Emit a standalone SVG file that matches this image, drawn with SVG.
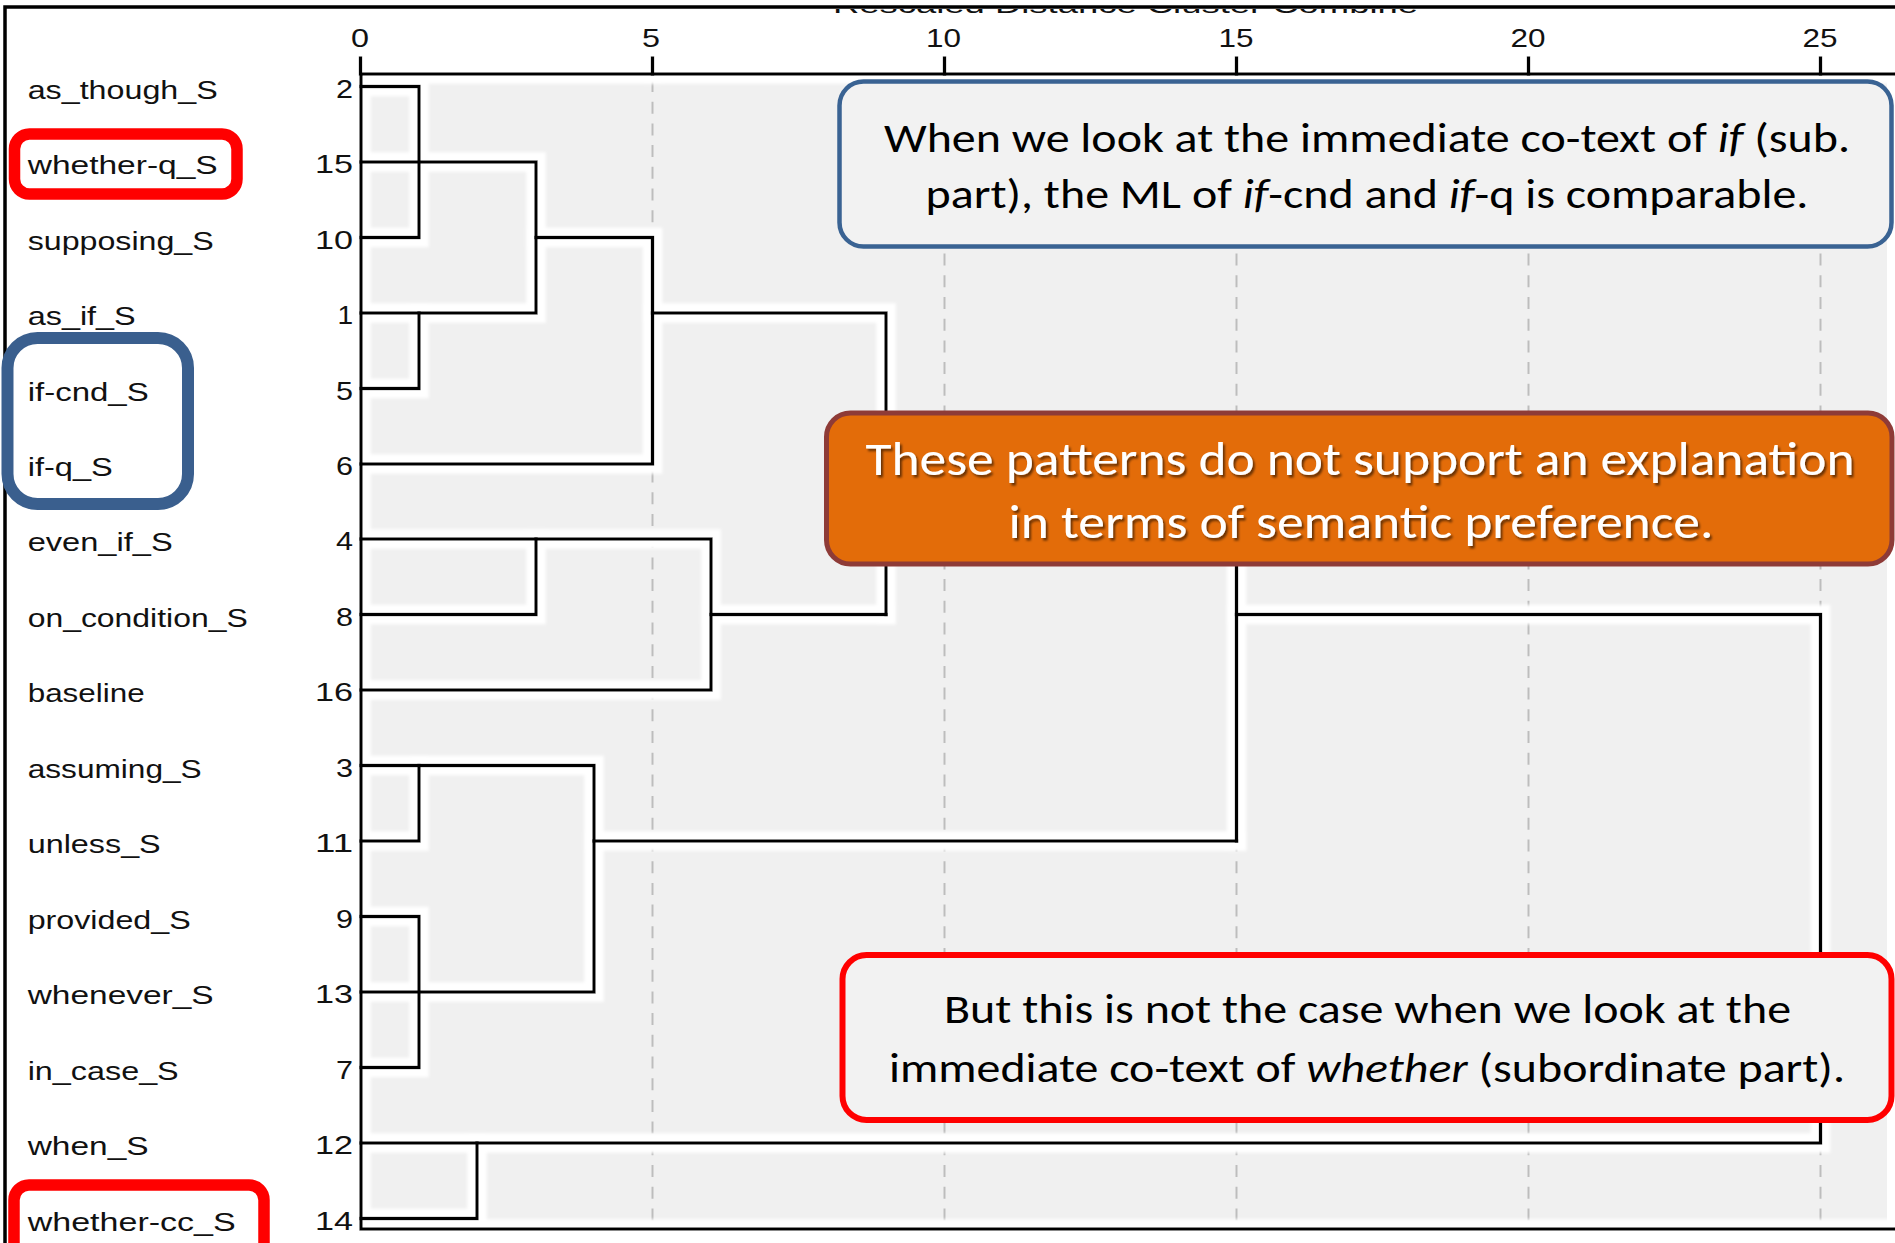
<svg xmlns="http://www.w3.org/2000/svg" width="1895" height="1243" viewBox="0 0 1895 1243">
<defs>
<style>
.lbl{font-family:"Liberation Sans",Arial,sans-serif;font-size:25px;fill:#111;}
.num{font-family:"Liberation Sans",Arial,sans-serif;font-size:25px;fill:#111;text-anchor:end;}
.ax{font-family:"Liberation Sans",Arial,sans-serif;font-size:25px;fill:#111;text-anchor:middle;}
.ln{fill:none;stroke:#000;stroke-width:3.5;stroke-linecap:square;}
.grid{stroke:#bdbdbd;stroke-width:2;stroke-dasharray:12 9.7;}
.call{font-family:Carlito,Lato,"Open Sans",sans-serif;font-size:40px;fill:#000;text-anchor:middle;}
.callw{font-family:Carlito,Lato,"Open Sans",sans-serif;font-size:48px;fill:#fff;text-anchor:middle;}
.it{font-style:italic;}
.hlr{fill:none;stroke:#ff0000;stroke-width:11.5;}
.hlb{fill:none;stroke:#3a5f8e;stroke-width:12;}
</style>
<filter id="halo" filterUnits="userSpaceOnUse" x="0" y="0" width="1895" height="1243">
<feMorphology in="SourceAlpha" operator="dilate" radius="8" result="d"/>
<feGaussianBlur in="d" stdDeviation="1.5" result="b"/>
<feFlood flood-color="#ffffff"/>
<feComposite in2="b" operator="in" result="w"/>
<feMerge><feMergeNode in="w"/><feMergeNode in="SourceGraphic"/></feMerge>
</filter>
<filter id="shadow" x="-5%" y="-20%" width="110%" height="140%">
<feDropShadow dx="2" dy="2.5" stdDeviation="1.2" flood-color="#000" flood-opacity="0.55"/>
</filter>
<clipPath id="titleClip"><rect x="0" y="9" width="1895" height="10"/></clipPath>
</defs>

<rect x="0" y="0" width="1895" height="1243" fill="#ffffff"/>
<!-- plot area -->
<rect x="361" y="74" width="1526" height="1155" fill="#f0f0f0"/>
<!-- grid -->
<g id="grid">
<line class="grid" x1="652.5" y1="80" x2="652.5" y2="1229"/>
<line class="grid" x1="944.5" y1="80" x2="944.5" y2="1229"/>
<line class="grid" x1="1236.5" y1="80" x2="1236.5" y2="1229"/>
<line class="grid" x1="1528.5" y1="80" x2="1528.5" y2="1229"/>
<line class="grid" x1="1820.5" y1="80" x2="1820.5" y2="1229"/>
</g>

<!-- frame -->
<path d="M5 1243 V7 H1895" fill="none" stroke="#000" stroke-width="3.5"/>

<!-- title fragment -->
<text x="1125.5" y="12.5" clip-path="url(#titleClip)" textLength="585" lengthAdjust="spacingAndGlyphs" font-family="Liberation Sans, Arial, sans-serif" font-size="24" fill="#111" text-anchor="middle">Rescaled Distance Cluster Combine</text>

<!-- axis + dendrogram -->
<g id="connectors" filter="url(#halo)">
<path class="ln" d="M1895 74 H361 V1229 H1895"/>
<path class="ln" d="M360.5 58 V74 M652.5 58 V74 M944.5 58 V74 M1236.5 58 V74 M1528.5 58 V74 M1820.5 58 V74"/>
<path class="ln" d="M361 86.5 H419 V237.5 H361"/>
<path class="ln" d="M361 162 H536 V313 H361"/>
<path class="ln" d="M419 313 V388.5 H361"/>
<path class="ln" d="M536 237.5 H652.5 V464 H361"/>
<path class="ln" d="M652.5 313 H886 V614.5"/>
<path class="ln" d="M361 539 H711 V690 H361"/>
<path class="ln" d="M536 539 V614.5 H361"/>
<path class="ln" d="M711 614.5 H886"/>
<path class="ln" d="M886 464 H1236.5 V841"/>
<path class="ln" d="M361 765.5 H594 V992 H361"/>
<path class="ln" d="M419 765.5 V841 H361"/>
<path class="ln" d="M361 916.5 H419 V1067.5 H361"/>
<path class="ln" d="M594 841 H1236.5"/>
<path class="ln" d="M1236.5 614.5 H1820.5 V1143 H361"/>
<path class="ln" d="M477 1143 V1218.5 H361"/>
</g>

<!-- axis labels -->
<g id="axis-labels">
<text class="ax" x="360" y="47" textLength="18" lengthAdjust="spacingAndGlyphs">0</text>
<text class="ax" x="651" y="47" textLength="18" lengthAdjust="spacingAndGlyphs">5</text>
<text class="ax" x="943.5" y="47" textLength="35" lengthAdjust="spacingAndGlyphs">10</text>
<text class="ax" x="1236" y="47" textLength="35" lengthAdjust="spacingAndGlyphs">15</text>
<text class="ax" x="1528" y="47" textLength="35" lengthAdjust="spacingAndGlyphs">20</text>
<text class="ax" x="1820" y="47" textLength="35" lengthAdjust="spacingAndGlyphs">25</text>
</g>

<!-- leaves -->
<g id="leaf-as_though_S"><text class="lbl" x="27.7" y="98.5" textLength="190" lengthAdjust="spacingAndGlyphs">as_though_S</text><text class="num" x="353" y="97.5" textLength="17" lengthAdjust="spacingAndGlyphs">2</text></g>
<g id="leaf-whether-q_S"><text class="lbl" x="27.7" y="174" textLength="190" lengthAdjust="spacingAndGlyphs">whether-q_S</text><text class="num" x="353" y="173" textLength="38" lengthAdjust="spacingAndGlyphs">15</text></g>
<g id="leaf-supposing_S"><text class="lbl" x="27.7" y="249.5" textLength="186" lengthAdjust="spacingAndGlyphs">supposing_S</text><text class="num" x="353" y="248.5" textLength="38" lengthAdjust="spacingAndGlyphs">10</text></g>
<g id="leaf-as_if_S"><text class="lbl" x="27.7" y="325" textLength="108" lengthAdjust="spacingAndGlyphs">as_if_S</text><text class="num" x="353" y="324" textLength="15.6" lengthAdjust="spacingAndGlyphs">1</text></g>
<g id="leaf-if-cnd_S"><text class="lbl" x="27.7" y="400.5" textLength="121" lengthAdjust="spacingAndGlyphs">if-cnd_S</text><text class="num" x="353" y="399.5" textLength="17" lengthAdjust="spacingAndGlyphs">5</text></g>
<g id="leaf-if-q_S"><text class="lbl" x="27.7" y="476" textLength="85" lengthAdjust="spacingAndGlyphs">if-q_S</text><text class="num" x="353" y="475" textLength="17" lengthAdjust="spacingAndGlyphs">6</text></g>
<g id="leaf-even_if_S"><text class="lbl" x="27.7" y="551" textLength="145" lengthAdjust="spacingAndGlyphs">even_if_S</text><text class="num" x="353" y="550" textLength="17" lengthAdjust="spacingAndGlyphs">4</text></g>
<g id="leaf-on_condition_S"><text class="lbl" x="27.7" y="626.5" textLength="220" lengthAdjust="spacingAndGlyphs">on_condition_S</text><text class="num" x="353" y="625.5" textLength="17" lengthAdjust="spacingAndGlyphs">8</text></g>
<g id="leaf-baseline"><text class="lbl" x="27.7" y="702" textLength="117" lengthAdjust="spacingAndGlyphs">baseline</text><text class="num" x="353" y="701" textLength="38" lengthAdjust="spacingAndGlyphs">16</text></g>
<g id="leaf-assuming_S"><text class="lbl" x="27.7" y="777.5" textLength="174" lengthAdjust="spacingAndGlyphs">assuming_S</text><text class="num" x="353" y="776.5" textLength="17" lengthAdjust="spacingAndGlyphs">3</text></g>
<g id="leaf-unless_S"><text class="lbl" x="27.7" y="853" textLength="133" lengthAdjust="spacingAndGlyphs">unless_S</text><text class="num" x="353" y="852" textLength="38" lengthAdjust="spacingAndGlyphs">11</text></g>
<g id="leaf-provided_S"><text class="lbl" x="27.7" y="928.5" textLength="163" lengthAdjust="spacingAndGlyphs">provided_S</text><text class="num" x="353" y="927.5" textLength="17" lengthAdjust="spacingAndGlyphs">9</text></g>
<g id="leaf-whenever_S"><text class="lbl" x="27.7" y="1004" textLength="186" lengthAdjust="spacingAndGlyphs">whenever_S</text><text class="num" x="353" y="1003" textLength="38" lengthAdjust="spacingAndGlyphs">13</text></g>
<g id="leaf-in_case_S"><text class="lbl" x="27.7" y="1079.5" textLength="151" lengthAdjust="spacingAndGlyphs">in_case_S</text><text class="num" x="353" y="1078.5" textLength="17" lengthAdjust="spacingAndGlyphs">7</text></g>
<g id="leaf-when_S"><text class="lbl" x="27.7" y="1155" textLength="121" lengthAdjust="spacingAndGlyphs">when_S</text><text class="num" x="353" y="1154" textLength="38" lengthAdjust="spacingAndGlyphs">12</text></g>
<g id="leaf-whether-cc_S"><text class="lbl" x="27.7" y="1230.5" textLength="208" lengthAdjust="spacingAndGlyphs">whether-cc_S</text><text class="num" x="353" y="1229.5" textLength="38" lengthAdjust="spacingAndGlyphs">14</text></g>

<!-- highlight boxes -->
<g id="highlight-whether-q"><rect class="hlr" x="14.5" y="134" width="222.5" height="60" rx="15"/></g>
<g id="highlight-if"><rect class="hlb" x="7.5" y="338" width="180.5" height="166" rx="30"/></g>
<g id="highlight-whether-cc"><rect class="hlr" x="14" y="1185" width="250" height="80" rx="15"/></g>

<!-- callouts -->
<g id="callout-if">
<rect x="839.5" y="81.5" width="1052" height="165" rx="24" fill="#f2f2f2" stroke="#3a6393" stroke-width="4.5"/>
<text class="call" x="1367" y="152" textLength="966" lengthAdjust="spacingAndGlyphs">When we look at the immediate co-text of <tspan class="it">if</tspan> (sub.</text>
<text class="call" x="1367" y="208" textLength="883" lengthAdjust="spacingAndGlyphs">part), the ML of <tspan class="it">if</tspan>-cnd and <tspan class="it">if</tspan>-q is comparable.</text>
</g>
<g id="callout-semantic">
<rect x="826.5" y="413" width="1065.5" height="151" rx="24" fill="#e36c09" stroke="#8e3b37" stroke-width="5"/>
<g filter="url(#shadow)">
<text class="callw" x="1360" y="475" textLength="989" lengthAdjust="spacingAndGlyphs">These patterns do not support an explanation</text>
<text class="callw" x="1361" y="538" textLength="705" lengthAdjust="spacingAndGlyphs">in terms of semantic preference.</text>
</g>
</g>
<g id="callout-whether">
<rect x="842.5" y="955" width="1049" height="165" rx="24" fill="#f2f2f2" stroke="#ff0000" stroke-width="6"/>
<text class="call" x="1367.5" y="1023" textLength="847" lengthAdjust="spacingAndGlyphs">But this is not the case when we look at the</text>
<text class="call" x="1367" y="1082" textLength="956" lengthAdjust="spacingAndGlyphs">immediate co-text of <tspan class="it">whether</tspan> (subordinate part).</text>
</g>
</svg>
